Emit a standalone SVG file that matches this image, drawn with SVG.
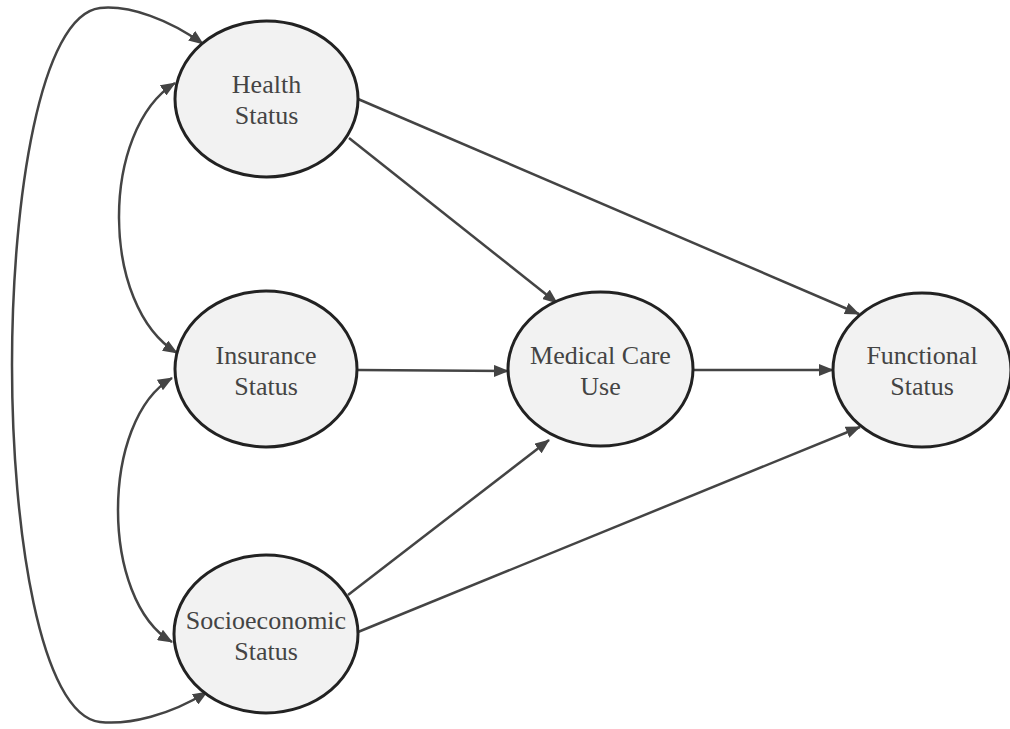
<svg xmlns="http://www.w3.org/2000/svg" width="1010" height="729" viewBox="0 0 1010 729">
  <style>
    .node ellipse { fill: #f2f2f2; stroke: #222; stroke-width: 3; }
    .node text { font-family: "Liberation Serif", "DejaVu Serif", serif; font-size: 26px; fill: #444; text-anchor: middle; }
    .edge { fill: none; stroke: #444; stroke-width: 2.5; }
  </style>
  <defs>
    <marker id="arrow" viewBox="0 0 15 12" refX="14" refY="6" markerWidth="15" markerHeight="12" markerUnits="userSpaceOnUse" orient="auto-start-reverse">
      <path d="M0,0 L15,6 L0,12 z" fill="#444"/>
    </marker>
  </defs>

  <g id="connectors">
    <!-- straight paths -->
    <line class="edge" x1="349" y1="138" x2="557" y2="303" marker-end="url(#arrow)"/>
    <line class="edge" x1="358" y1="99" x2="859" y2="314" marker-end="url(#arrow)"/>
    <line class="edge" x1="358" y1="370" x2="508" y2="371" marker-end="url(#arrow)"/>
    <line class="edge" x1="692" y1="370" x2="833" y2="370" marker-end="url(#arrow)"/>
    <line class="edge" x1="348" y1="595" x2="549" y2="440" marker-end="url(#arrow)"/>
    <line class="edge" x1="358" y1="632" x2="860" y2="427" marker-end="url(#arrow)"/>
    <!-- correlations -->
    <path class="edge" d="M175,83 C100,130 100,306 177,353" marker-start="url(#arrow)" marker-end="url(#arrow)"/>
    <path class="edge" d="M172,378 C100,420 100,600 172,642" marker-start="url(#arrow)" marker-end="url(#arrow)"/>
    <path class="edge" d="M203,44 C170,20 130,5 100,8 C40,15 12,200 12,365 C12,530 40,715 100,722 C130,725 170,715 207,692" marker-start="url(#arrow)" marker-end="url(#arrow)"/>
  </g>

  <g id="health" class="node">
    <ellipse cx="266.5" cy="99" rx="91.5" ry="78"/>
    <text x="266.5" y="93">Health</text>
    <text x="266.5" y="124">Status</text>
  </g>
  <g id="insurance" class="node">
    <ellipse cx="266" cy="369" rx="91" ry="78"/>
    <text x="266" y="364">Insurance</text>
    <text x="266" y="395">Status</text>
  </g>
  <g id="socioeconomic" class="node">
    <ellipse cx="266" cy="634" rx="92" ry="79"/>
    <text x="266" y="629">Socioeconomic</text>
    <text x="266" y="660">Status</text>
  </g>
  <g id="medical" class="node">
    <ellipse cx="600.5" cy="369" rx="92.5" ry="77"/>
    <text x="600.5" y="364">Medical Care</text>
    <text x="600.5" y="395">Use</text>
  </g>
  <g id="functional" class="node">
    <ellipse cx="922" cy="370" rx="89" ry="77"/>
    <text x="922" y="364">Functional</text>
    <text x="922" y="395">Status</text>
  </g>
</svg>
